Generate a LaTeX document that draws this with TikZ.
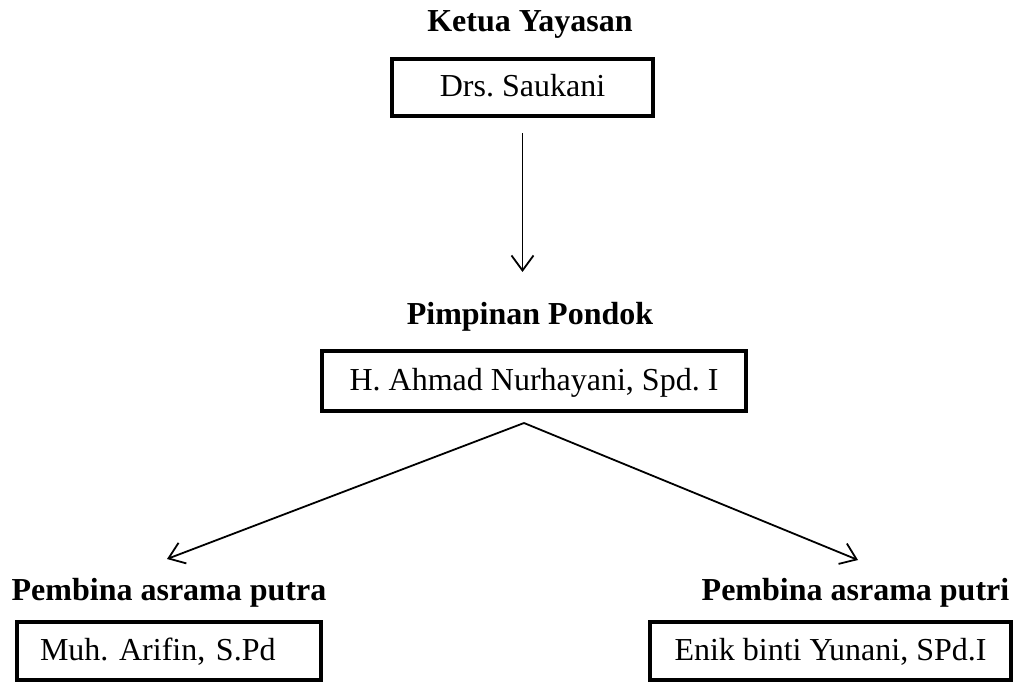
\documentclass[tikz,border=0pt]{standalone}
\usepackage{fontspec}
\setmainfont{Liberation Serif}
\usetikzlibrary{arrows.meta}
\frenchspacing
\tikzset{
  titletext/.style={font=\fontsize{32}{38}\selectfont\bfseries, anchor=base, inner sep=0pt},
  personbox/.style={draw, line width=4.5pt, font=\fontsize{32}{38}\selectfont,
    text height=22pt, text depth=4pt, inner sep=0pt},
  arr/.style={line width=1.8pt, -{Straight Barb[length=15pt,width=22pt,line width=1.8pt]}}
}
\begin{document}
\begin{tikzpicture}[x=1pt,y=-1pt]
\useasboundingbox (0,0) rectangle (1019,684);
% titles
\node[titletext] (t1) at (530,32) {Ketua Yayasan};
\node[titletext] (t2) at (530,324) {Pimpinan Pondok};
\node[titletext] (t3) at (169,600) {Pembina asrama putra};
\node[titletext] (t4) at (855.5,600) {Pembina asrama putri};
% boxes
\node[personbox, minimum width=261pt, minimum height=57pt] (b1) at (522.5,87.5) {Drs. Saukani};
\node[personbox, minimum width=424pt, minimum height=60pt] (b2) at (534,381) {H. Ahmad Nurhayani, Spd. I};
\node[personbox, minimum height=58pt, text width=258pt, inner xsep=23pt, align=left] (b3) at (169,651) {Muh. Arifin, S.Pd};
\node[personbox, minimum width=361pt, minimum height=58pt] (b4) at (830.5,651) {Enik binti Yunani, SPd.I};
% connectors
\coordinate (a1end) at (522.5,272);
\coordinate (fork) at (524,423);
\coordinate (lt) at (167,559);
\coordinate (rt) at (858,560);
\draw[arr, shorten <=15pt] (b1.south) -- (a1end);
\draw[arr] (fork) -- (lt);
\draw[arr] (fork) -- (rt);
\end{tikzpicture}
\end{document}
